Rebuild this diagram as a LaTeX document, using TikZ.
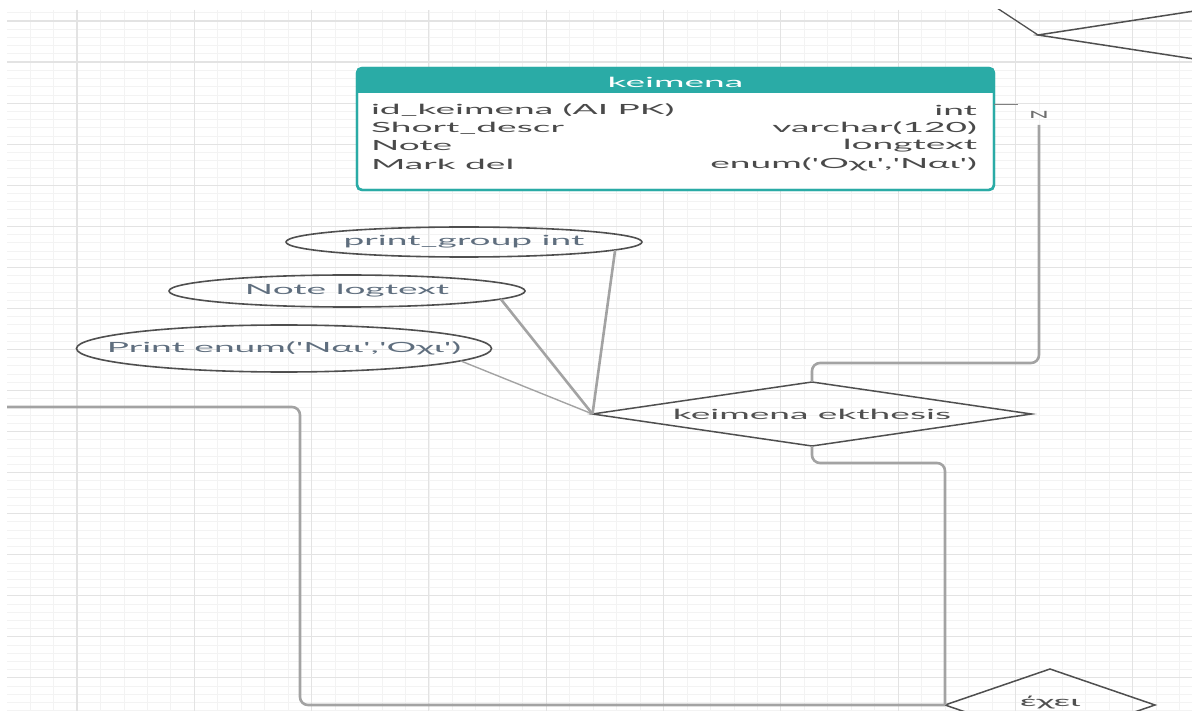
\documentclass[tikz,border=0pt]{standalone}
\usepackage{fontspec}
\setmainfont{Lato}
\usepackage{graphicx}
\usetikzlibrary{shapes.geometric}
\definecolor{teal1}{HTML}{2AABA6}
\definecolor{gridminor}{HTML}{F3F3F3}
\definecolor{gridmajor}{HTML}{E3E3E3}
\definecolor{conngray}{HTML}{A3A3A3}
\definecolor{shapeline}{HTML}{4F4F4F}
\definecolor{rowgray}{HTML}{4A4A4A}
\definecolor{attrtext}{HTML}{5F6E7E}
\definecolor{reltext}{HTML}{505050}
\newcommand\wtext[1]{\scalebox{2.65}[1]{#1}}
\newcommand\sq{\textquotesingle}
\begin{document}
\begin{tikzpicture}[x=1pt,y=-1pt,
  every node/.style={font=\fontsize{14}{16}\selectfont, inner sep=0pt, outer sep=0pt},
  minorgrid/.style={draw=gridminor, line width=0.7pt},
  majorgrid/.style={draw=gridmajor, line width=1.1pt},
  conn/.style={draw=conngray, line width=2.6pt, rounded corners=8pt},
  thinconn/.style={draw=conngray, line width=1.4pt},
  attr/.style={ellipse, draw=shapeline, line width=1.6pt},
  rel/.style={diamond, draw=shapeline, line width=1.5pt},
  rowtxt/.style={text=rowgray},
]
\useasboundingbox (0,0) rectangle (1192,711);
\begin{scope}
\clip (7,10) rectangle (1192,711);
% grid
\foreach \i in {0,...,50} \draw[minorgrid] ({6.62+23.46*\i},10) -- ({6.62+23.46*\i},711);
\foreach \j in {0,...,85} \draw[minorgrid] (7,{12.79+8.21*\j}) -- (1192,{12.79+8.21*\j});
\foreach \k in {0,...,9} \draw[majorgrid] ({77+117.3*\k},10) -- ({77+117.3*\k},711);
\foreach \k in {0,...,16} \draw[majorgrid] (7,{21+41.05*\k}) -- (1192,{21+41.05*\k});

% table
\node[draw=teal1, line width=2.4pt, rounded corners=5pt, fill=white,
      minimum width=637pt, minimum height=122pt, anchor=north west] (k) at (357,68) {};
\fill[teal1, rounded corners=5pt] (357,68) rectangle (994,93);
\fill[teal1] (357,80) rectangle (994,93);
\draw[teal1, line width=2.4pt, rounded corners=5pt] (k.north west) rectangle (k.south east);
\node[text=white] (kh) at (675.5,82) {\wtext{keimena}};
\node[rowtxt, anchor=west] (r1l) at (371,110) {\wtext{id\_keimena (AI PK)}};
\node[rowtxt, anchor=east] (r1r) at (977,110) {\wtext{int}};
\node[rowtxt, anchor=west] (r2l) at (371,128) {\wtext{Short\_descr}};
\node[rowtxt, anchor=east] (r2r) at (977,128) {\wtext{varchar(120)}};
\node[rowtxt, anchor=west] (r3l) at (371,146) {\wtext{Note}};
\node[rowtxt, anchor=east] (r3r) at (977,146) {\wtext{longtext}};
\node[rowtxt, anchor=west] (r4l) at (371,164) {\wtext{Mark del}};
\node[rowtxt, anchor=east] (r4r) at (977,164) {\wtext{enum(\sq Οχι\sq,\sq Ναι\sq)}};

% attributes
\node[attr, minimum width=356pt, minimum height=30pt,
      label={[text=attrtext]center:\wtext{print\_group int}}] (pg) at (464,242) {};
\node[attr, minimum width=356pt, minimum height=32pt,
      label={[text=attrtext]center:\wtext{Note logtext}}] (nl) at (347,291) {};
\node[attr, minimum width=415pt, minimum height=47pt,
      label={[text=attrtext]center:\wtext{Print enum(\sq Ναι\sq,\sq Οχι\sq)}}] (pe) at (284,348.5) {};

% relationships
\node[rel, minimum width=439pt, minimum height=64pt,
      label={[text=reltext]center:\wtext{keimena ekthesis}}] (d1) at (812,414) {};
\node[rel, minimum width=210pt, minimum height=72pt,
      label={[text=reltext, yshift=2pt]center:\wtext{έχει}}] (e) at (1050,705) {};
\node[rel, minimum width=404pt, minimum height=62pt] (tr) at (1240,35) {};

\coordinate (kr) at (994,105);
\coordinate (kn) at (1018,105);
\coordinate (nb) at (1039,125);
\coordinate (ls) at (0,407);
\coordinate (ts) at (984.8,0);
\node[text=rowgray!80, font=\fontsize{10}{12}\selectfont] (nlab) at (1039,115) {\wtext{N}};

% connectors
\draw[conn] (d1.west) -- (pg.-3.8);
\draw[conn] (d1.west) -- (nl.-3.9);
\draw[thinconn] (d1.west) -- (pe.-4.4);
\draw[draw=gray, line width=1pt] (kr) -- (kn);
\draw[conn] (d1.north) -- ++(0,-19) -| (nb);
\draw[conn] (d1.south) -- ++(0,17) -| (e.west);
\draw[conn] (ls) -- (300,407) -- (300,705) -- (e.west);
\draw[draw=shapeline, line width=1.3pt] (ts) -- (tr.west);
\end{scope}
\end{tikzpicture}
\end{document}
